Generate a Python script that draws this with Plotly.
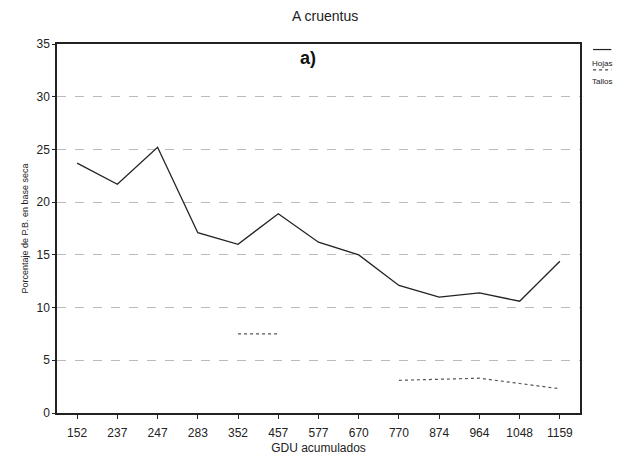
import plotly.graph_objects as go

categories = ["152", "237", "247", "283", "352", "457", "577", "670", "770", "874", "964", "1048", "1159"]
hojas = [23.7, 21.7, 25.2, 17.1, 16.0, 18.9, 16.2, 15.0, 12.1, 11.0, 11.4, 10.6, 14.4]
tallos = [None, None, None, None, 7.5, 7.5, None, None, 3.1, 3.2, 3.3, 2.8, 2.3]
y_ticks = [0, 5, 10, 15, 20, 25, 30, 35]

fig = go.Figure()
fig.add_trace(go.Scatter(x=categories, y=hojas, mode="lines", name="Hojas",
                         line=dict(color="#222222", width=1.3), connectgaps=False))
fig.add_trace(go.Scatter(x=categories, y=tallos, mode="lines", name="Tallos",
                         line=dict(color="#555555", width=1.2, dash="dot"), connectgaps=False))

font_family = "Liberation Sans, Arial, sans-serif"
fig.update_layout(
    width=617, height=459,
    margin=dict(l=57, r=37, t=44, b=46),
    paper_bgcolor="white", plot_bgcolor="white",
    showlegend=False,
    font=dict(family=font_family, color="#222222", size=12),
    title=dict(text="A cruentus", x=0.527, xanchor="center", y=0.975, yanchor="top",
               font=dict(size=14, family=font_family, color="#222222")),
    xaxis=dict(type="category", range=[-0.5, len(categories) - 0.5], automargin=False,
               showline=True, linecolor="#222222", linewidth=1.5, mirror=True,
               ticks="outside", ticklen=4, tickcolor="#222222", showgrid=False,
               ticklabelstandoff=4,
               tickfont=dict(size=12), title=dict(text="GDU acumulados", font=dict(size=12), standoff=4)),
    yaxis=dict(range=[0, 35], tickvals=y_ticks, showline=True, linecolor="#222222", linewidth=1.5,
               mirror=True, ticks="outside", ticklen=3, tickcolor="#222222", automargin=False,
               showgrid=True, gridcolor="#bbbbbb", griddash="dash", gridwidth=1, zeroline=False,
               tickfont=dict(size=12),
               title=dict(text="Porcentaje de P.B. en base seca", font=dict(size=9), standoff=6)),
)

fig.add_annotation(text="<b>a)</b>", xref="paper", yref="paper", x=0.48, y=0.995,
                   xanchor="center", yanchor="top", showarrow=False,
                   font=dict(size=18, family=font_family, color="#111111"))

# custom legend: line sample above label
fig.add_shape(type="line", xref="paper", yref="paper", x0=1.025, x1=1.06, y0=0.985, y1=0.985,
              line=dict(color="#222222", width=1.2))
fig.add_annotation(text="Hojas", xref="paper", yref="paper", x=1.02, y=0.965,
                   xanchor="left", yanchor="top", showarrow=False,
                   font=dict(size=8, color="#222222", family=font_family))
fig.add_shape(type="line", xref="paper", yref="paper", x0=1.025, x1=1.06, y0=0.93, y1=0.93,
              line=dict(color="#444444", width=1.2, dash="dot"))
fig.add_annotation(text="Tallos", xref="paper", yref="paper", x=1.02, y=0.915,
                   xanchor="left", yanchor="top", showarrow=False,
                   font=dict(size=8, color="#222222", family=font_family))

fig.write_html("out.html")
